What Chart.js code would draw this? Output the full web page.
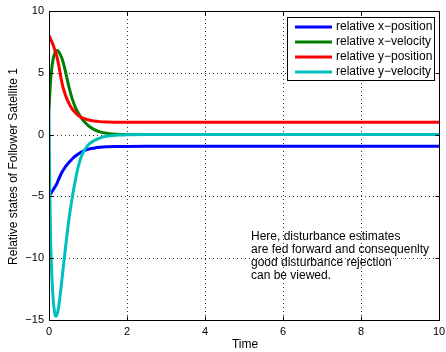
<!DOCTYPE html>
<html>
<head>
<meta charset="utf-8">
<script src="https://cdn.jsdelivr.net/npm/chart.js@4"></script>
<style>
  html, body { margin: 0; padding: 0; background: #fff; }
  #wrap { width: 446px; height: 352px; position: relative; }
</style>
</head>
<body>
<div id="wrap"><canvas id="c" width="446" height="352"></canvas></div>
<script>
// ---- data ----
const times = [0, 0.02, 0.04, 0.06, 0.08, 0.1, 0.12, 0.15, 0.18, 0.21, 0.25, 0.3, 0.35, 0.4, 0.45, 0.5, 0.55, 0.6, 0.67, 0.75, 0.85, 1.0, 1.15, 1.3, 1.5, 1.75, 2, 2.5, 3, 4, 5, 6, 7, 8, 9, 10];
const relXPosition = [-5, -4.9, -4.8, -4.7, -4.6, -4.5, -4.4, -4.25, -4.1, -3.9, -3.6, -3.25, -2.95, -2.7, -2.48, -2.3, -2.12, -1.95, -1.75, -1.57, -1.38, -1.2, -1.1, -1.03, -0.99, -0.97, -0.96, -0.95, -0.95, -0.95, -0.95, -0.95, -0.95, -0.95, -0.95, -0.95];
const relXVelocity = [2, 3.3, 4.3, 5.0, 5.6, 6.0, 6.3, 6.6, 6.75, 6.8, 6.7, 6.4, 6.0, 5.4, 4.7, 4.0, 3.4, 2.85, 2.25, 1.75, 1.25, 0.75, 0.42, 0.22, 0.1, 0.03, 0.01, 0, 0, 0, 0, 0, 0, 0, 0, 0];
const relYPosition = [8, 7.88, 7.74, 7.6, 7.45, 7.3, 7.12, 6.85, 6.55, 6.2, 5.6, 4.7, 3.95, 3.4, 2.95, 2.6, 2.3, 2.05, 1.8, 1.55, 1.35, 1.2, 1.1, 1.05, 1.02, 1.0, 1.0, 1, 1, 1, 1, 1, 1, 1, 1, 1];
const relYVelocity = [2, -4.5, -8.2, -10.4, -11.9, -13.0, -13.8, -14.5, -14.7, -14.5, -13.9, -12.6, -11.2, -9.8, -8.4, -7.1, -6.0, -5.0, -3.8, -2.6, -1.6, -0.85, -0.5, -0.28, -0.12, -0.04, -0.01, 0, 0, 0, 0, 0, 0, 0, 0, 0];

const seriesLabels = ['relative x\u2212position', 'relative x\u2212velocity', 'relative y\u2212position', 'relative y\u2212velocity'];
const seriesColors = ['#0000ff', '#008000', '#ff0000', '#00bfbf'];

const xTickLabels = ['0', '2', '4', '6', '8', '10'];
const yTickLabels = ['\u221215', '\u221210', '\u22125', '0', '5', '10'];

const xTitle = 'Time';
const yTitle = 'Relative states of Follower Satellite 1';
const noteLines = ['Here, disturbance estimates', 'are fed forward and consequenlty', 'good disturbance rejection', 'can be viewed.'];

// ---- build datasets ----
const allSeries = [relXPosition, relXVelocity, relYPosition, relYVelocity];
const datasets = allSeries.map((vals, i) => ({
  label: seriesLabels[i],
  data: times.map((t, k) => ({ x: t, y: vals[k] })),
  borderColor: seriesColors[i],
  backgroundColor: seriesColors[i],
  borderWidth: 3,
  pointRadius: 0,
  fill: false,
  cubicInterpolationMode: 'monotone',
  order: 3 - i
}));

const FONT = '"Liberation Sans", Arial, Helvetica, sans-serif';

const framePlugin = {
  id: 'matlabFrame',
  beforeDatasetsDraw(chart) {
    const { ctx, chartArea: a, scales } = chart;
    const xs = scales.x, ys = scales.y;
    ctx.save();
    ctx.strokeStyle = '#333';
    ctx.lineWidth = 1;
    ctx.setLineDash([1, 3]);
    xs.ticks.forEach(t => {
      const p = Math.round(xs.getPixelForValue(t.value)) + 0.5;
      if (p <= a.left + 1 || p >= a.right - 1) return;
      ctx.beginPath(); ctx.moveTo(p, a.top); ctx.lineTo(p, a.bottom); ctx.stroke();
    });
    ys.ticks.forEach(t => {
      const p = Math.round(ys.getPixelForValue(t.value)) + 0.5;
      if (p <= a.top + 1 || p >= a.bottom - 1) return;
      ctx.beginPath(); ctx.moveTo(a.left, p); ctx.lineTo(a.right, p); ctx.stroke();
    });
    ctx.restore();
  },
  afterDatasetsDraw(chart) {
    const { ctx, chartArea: a, scales } = chart;
    const xs = scales.x, ys = scales.y;
    ctx.save();
    // box
    ctx.strokeStyle = '#000';
    ctx.lineWidth = 1;
    ctx.setLineDash([]);
    const L = Math.round(a.left) + 0.5, R = Math.round(a.right) + 0.5;
    const T = Math.round(a.top) + 0.5, B = Math.round(a.bottom) + 0.5;
    ctx.strokeRect(L, T, R - L, B - T);
    // inner ticks
    const tl = 4;
    ctx.beginPath();
    xs.ticks.forEach(t => {
      const p = Math.round(xs.getPixelForValue(t.value)) + 0.5;
      ctx.moveTo(p, B); ctx.lineTo(p, B - tl);
      ctx.moveTo(p, T); ctx.lineTo(p, T + tl);
    });
    ys.ticks.forEach(t => {
      const p = Math.round(ys.getPixelForValue(t.value)) + 0.5;
      ctx.moveTo(L, p); ctx.lineTo(L + tl, p);
      ctx.moveTo(R, p); ctx.lineTo(R - tl, p);
    });
    ctx.stroke();

    // legend
    const lx0 = 287.5, ly0 = 17.5, lw = 147, lh = 63;
    ctx.fillStyle = '#fff';
    ctx.fillRect(lx0, ly0, lw, lh);
    ctx.strokeRect(lx0, ly0, lw, lh);
    ctx.font = '12px ' + FONT;
    ctx.textBaseline = 'middle';
    ctx.textAlign = 'left';
    chart.data.datasets.forEach((ds, i) => {
      const yy = 27 + i * 15;
      ctx.strokeStyle = ds.borderColor;
      ctx.lineWidth = 3;
      ctx.beginPath(); ctx.moveTo(295, yy); ctx.lineTo(332, yy); ctx.stroke();
      ctx.fillStyle = '#000';
      ctx.fillText(ds.label, 336, yy);
    });

    // annotation
    ctx.fillStyle = '#000';
    ctx.font = '12px ' + FONT;
    noteLines.forEach((s, i) => ctx.fillText(s, 251, 237 + i * 13));

    // axis titles
    ctx.font = '12px ' + FONT;
    ctx.textAlign = 'center';
    ctx.fillText(xTitle, 245, 345);
    ctx.translate(13.5, 166.5);
    ctx.rotate(-Math.PI / 2);
    ctx.fillText(yTitle, 0, 0);
    ctx.restore();
  }
};

new Chart(document.getElementById('c'), {
  type: 'line',
  data: { datasets },
  options: {
    responsive: false,
    animation: false,
    parsing: true,
    layout: { padding: { top: 11, right: 7, left: 0, bottom: 0 } },
    plugins: { legend: { display: false }, tooltip: { enabled: false } },
    scales: {
      x: {
        type: 'linear', min: 0, max: 10,
        grid: { display: false, drawTicks: false },
        border: { display: false },
        ticks: {
          stepSize: 2, maxRotation: 0, autoSkip: false, padding: 5,
          color: '#000', font: { family: FONT, size: 11 },
          callback: (v, i) => xTickLabels[i]
        },
        afterFit(s) { s.height = 32; s.paddingLeft = 0; s.paddingRight = 0; }
      },
      y: {
        type: 'linear', min: -15, max: 10,
        grid: { display: false, drawTicks: false },
        border: { display: false },
        ticks: {
          stepSize: 5, autoSkip: false, padding: 5,
          color: '#000', font: { family: FONT, size: 11 },
          callback: (v, i) => yTickLabels[i]
        },
        afterFit(s) { s.width = 49; s.paddingTop = 0; s.paddingBottom = 0; }
      }
    }
  },
  plugins: [framePlugin]
});
</script>
</body>
</html>
